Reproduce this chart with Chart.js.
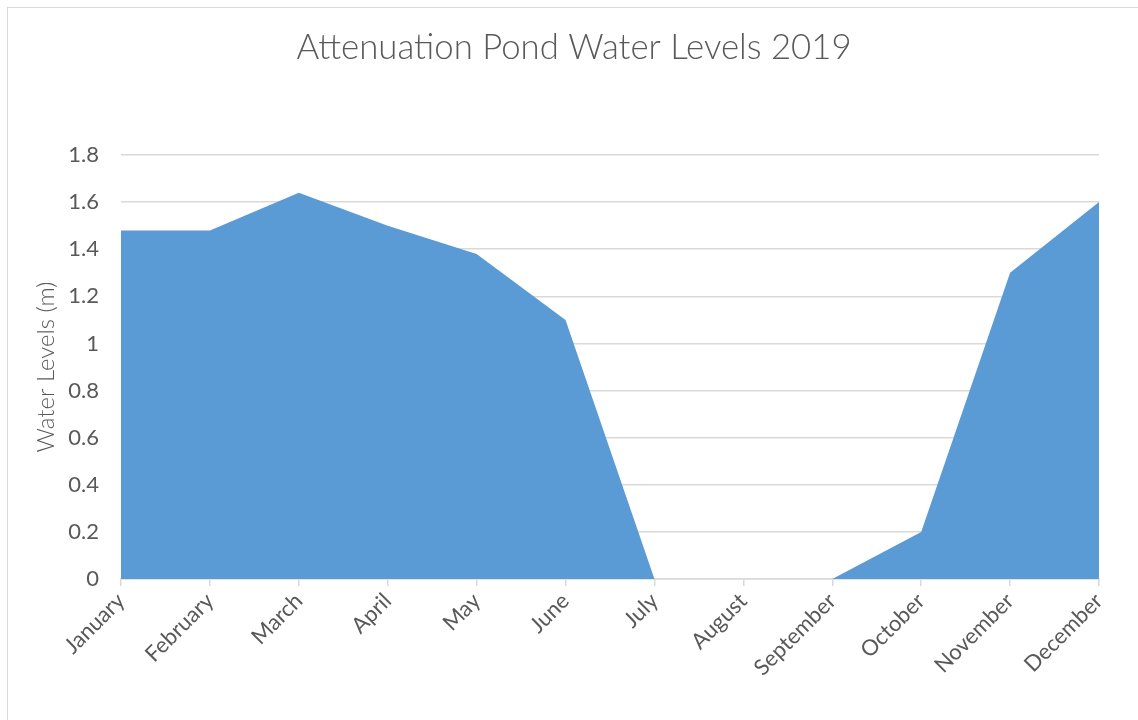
<!DOCTYPE html>
<html>
<head>
<meta charset="utf-8">
<title>Attenuation Pond Water Levels 2019</title>
<script src="https://cdn.jsdelivr.net/npm/chart.js@4/dist/chart.umd.min.js"></script>
<style>
  html, body { margin: 0; padding: 0; background: #ffffff; }
  #wrap { position: relative; width: 1138px; height: 720px; overflow: hidden; }
  #frame {
    position: absolute; left: 7px; top: 7px; width: 1200px; height: 800px;
    border: 1.5px solid #d9d9d9; box-sizing: border-box; pointer-events: none;
  }
  #c { position: absolute; left: 0; top: 0; }
</style>
</head>
<body>
<div id="wrap">
  <div id="frame"></div>
  <canvas id="c" width="1138" height="720"></canvas>
</div>
<script>
// Monthly water levels of the attenuation pond, 2019 (metres)
const months = ['January', 'February', 'March', 'April', 'May', 'June',
                'July', 'August', 'September', 'October', 'November', 'December'];
const waterLevels = [1.48, 1.48, 1.64, 1.50, 1.38, 1.10, 0, 0, 0, 0.20, 1.30, 1.60];
const chartTitle = 'Attenuation Pond Water Levels 2019';
const yAxisTitle = 'Water Levels (m)';

const textColor = '#595959';
const gridColor = '#d9d9d9';
const fontFamily = 'Lato, "Open Sans", "Liberation Sans", sans-serif';

// Plot rectangle kept fixed so the layout stays stable
const PLOT = { left: 121, right: 1099, top: 155, bottom: 579 };
const PAD_LEFT = 32;

// Centre the title over the frame instead of the padded canvas
const titleShift = {
  id: 'titleShift',
  afterLayout(chart) {
    const t = chart.titleBlock;
    if (t) { t.left = 49; t.right = PLOT.right; }
  }
};

new Chart(document.getElementById('c'), {
  type: 'line',
  data: {
    labels: months,
    datasets: [{
      data: waterLevels,
      fill: 'origin',
      backgroundColor: '#5b9bd5',
      borderColor: '#5b9bd5',
      borderWidth: 0,
      pointRadius: 0,
      tension: 0
    }]
  },
  options: {
    responsive: false,
    animation: false,
    devicePixelRatio: 1,
    layout: { padding: { left: PAD_LEFT, right: 1138 - PLOT.right, top: 0, bottom: 0 } },
    plugins: {
      legend: { display: false },
      tooltip: { enabled: false },
      title: {
        display: true,
        text: chartTitle,
        color: textColor,
        font: { family: fontFamily, size: 34.75, weight: '300', lineHeight: 1.2 },
        padding: { top: 27, bottom: PLOT.top - 27 - 41.7 }
      }
    },
    scales: {
      x: {
        offset: false,
        afterFit: (s) => { s.height = 720 - PLOT.bottom; },
        grid: {
          drawOnChartArea: false,
          drawTicks: true,
          tickLength: 7,
          color: gridColor,
          lineWidth: 1.5
        },
        border: { display: true, color: gridColor, width: 1.5 },
        ticks: {
          color: textColor,
          font: { family: fontFamily, size: 22 },
          minRotation: 45,
          maxRotation: 45,
          padding: 2,
          autoSkip: false
        }
      },
      y: {
        min: 0,
        max: 1.8,
        afterFit: (s) => { s.width = PLOT.left - PAD_LEFT; },
        grid: { drawTicks: false, color: gridColor, lineWidth: 1.5 },
        border: { display: false },
        ticks: {
          stepSize: 0.2,
          color: textColor,
          font: { family: fontFamily, size: 22 },
          padding: 22,
          callback: (v) => String(Number(v.toFixed(1)))
        },
        title: {
          display: true,
          text: yAxisTitle,
          color: textColor,
          font: { family: fontFamily, size: 24, weight: '300' },
          padding: { top: 0, bottom: 0 }
        }
      }
    }
  },
  plugins: [titleShift]
});
</script>
</body>
</html>
